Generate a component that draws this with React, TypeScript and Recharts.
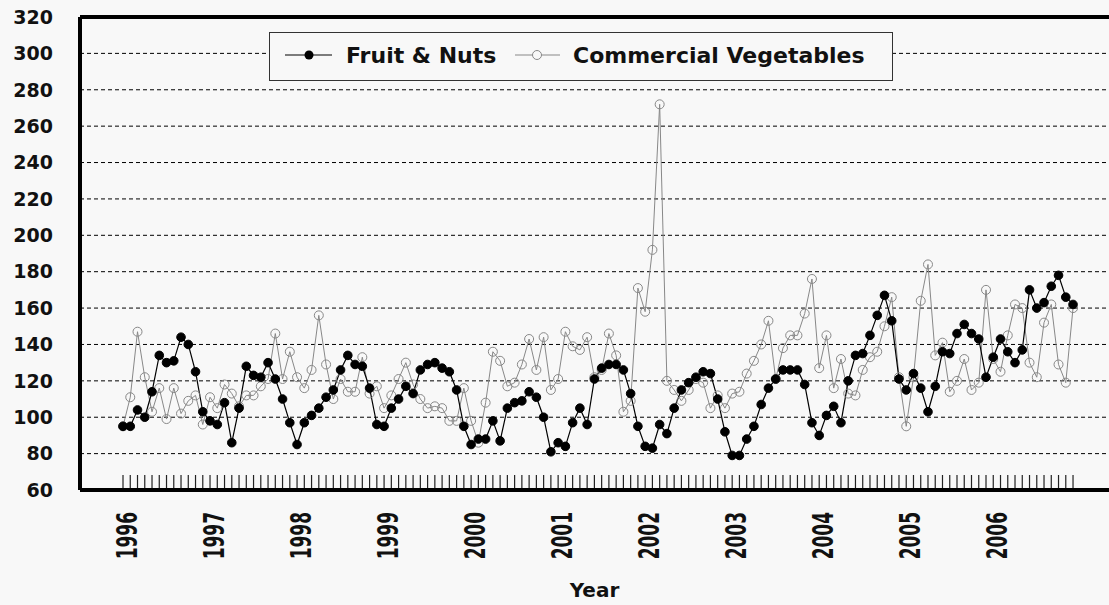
import React from "react";
import {
  LineChart,
  Line,
  XAxis,
  YAxis,
  CartesianGrid,
  ReferenceLine,
} from "recharts";

// monthly index values, Jan 1996 .. Dec 2006
const fruitNuts = [
  95, 95, 104, 100, 114, 134, 130, 131, 144, 140, 125, 103,
  98, 96, 108, 86, 105, 128, 123, 122, 130, 121, 110, 97,
  85, 97, 101, 105, 111, 115, 126, 134, 129, 128, 116, 96,
  95, 105, 110, 117, 113, 126, 129, 130, 127, 125, 115, 95,
  85, 88, 88, 98, 87, 105, 108, 109, 114, 111, 100, 81,
  86, 84, 97, 105, 96, 121, 127, 129, 129, 126, 113, 95,
  84, 83, 96, 91, 105, 115, 119, 122, 125, 124, 110, 92,
  79, 79, 88, 95, 107, 116, 121, 126, 126, 126, 118, 97,
  90, 101, 106, 97, 120, 134, 135, 145, 156, 167, 153, 121,
  115, 124, 116, 103, 117, 136, 135, 146, 151, 146, 143, 122,
  133, 143, 136, 130, 137, 170, 160, 163, 172, 178, 166, 162,
];

const commercialVeg = [
  95, 111, 147, 122, 103, 116, 99, 116, 102, 109, 112, 96,
  111, 105, 118, 113, 106, 112, 112, 117, 121, 146, 121, 136,
  122, 116, 126, 156, 129, 110, 121, 114, 114, 133, 113, 117,
  105, 112, 121, 130, 118, 110, 105, 106, 105, 98, 98, 116,
  98, 86, 108, 136, 131, 117, 119, 129, 143, 126, 144, 115,
  121, 147, 139, 137, 144, 122, 126, 146, 134, 103, 109, 171,
  158, 192, 272, 120, 115, 109, 115, 121, 119, 105, 112, 105,
  113, 114, 124, 131, 140, 153, 121, 138, 145, 145, 157, 176,
  127, 145, 116, 132, 113, 112, 126, 133, 136, 150, 166, 122,
  95, 122, 164, 184, 134, 141, 114, 120, 132, 115, 119, 170,
  132, 125, 145, 162, 160, 130, 122, 152, 162, 129, 119, 160,
];

const years = [
  "1996", "1997", "1998", "1999", "2000", "2001",
  "2002", "2003", "2004", "2005", "2006",
];

const yTicks = [60, 80, 100, 120, 140, 160, 180, 200, 220, 240, 260, 280, 300, 320];

const FONT = "DejaVu Sans";
const BG = "#f8f8f8";

const data = fruitNuts.map((v, i) => ({
  i,
  fruit: v,
  veg: commercialVeg[i],
}));
const monthTicks = data.map((d) => d.i);

function MonthTick(props: any) {
  const { x, y, payload } = props;
  const i = payload.value as number;
  return (
    <g>
      <line x1={x} x2={x} y1={y - 2} y2={y - 15} stroke="#222" strokeWidth={1.2} />
      {i % 12 === 0 && (
        <text
          transform={`translate(${x + 14},${y + 22}) rotate(-90) scale(1,1.7)`}
          textAnchor="end"
          fontFamily={FONT}
          fontWeight="bold"
          fontSize={17}
          fill="#111"
        >
          {years[i / 12]}
        </text>
      )}
    </g>
  );
}

// boxed legend drawn over the plot (not using <Legend/> so it takes no layout space)
function ChartLegend() {
  const text = {
    position: "absolute" as const,
    top: 10,
    fontFamily: FONT,
    fontWeight: "bold" as const,
    fontSize: 22,
    color: "#111",
    whiteSpace: "nowrap" as const,
    lineHeight: "26px",
  };
  return (
    <div
      style={{
        position: "absolute",
        left: 269,
        top: 32,
        width: 624,
        height: 49,
        boxSizing: "border-box",
        border: "1.5px solid #333",
        background: BG,
      }}
    >
      <svg width={624} height={49} style={{ position: "absolute", left: -1.5, top: -1.5 }}>
        <line x1={16} x2={63} y1={23} y2={23} stroke="#000" strokeWidth={1.2} />
        <circle cx={40} cy={23} r={4.5} fill="#000" />
        <line x1={246} x2={291} y1={23} y2={23} stroke="#888" strokeWidth={1} />
        <circle cx={268} cy={23} r={4.5} fill={BG} stroke="#888" strokeWidth={1} />
      </svg>
      <span style={{ ...text, left: 76 }}>Fruit &amp; Nuts</span>
      <span style={{ ...text, left: 303 }}>Commercial Vegetables</span>
    </div>
  );
}

export default function App() {
  return (
    <div
      style={{
        position: "absolute",
        left: 0,
        top: 0,
        width: 1109,
        height: 605,
        background: BG,
        overflow: "hidden",
      }}
    >
      <LineChart
        width={1109}
        height={605}
        data={data}
        margin={{ top: 17, right: 0, left: 0, bottom: 0 }}
      >
        <CartesianGrid vertical={false} stroke="#000" strokeDasharray="4 3" />
        <XAxis
          dataKey="i"
          type="number"
          domain={[-5.93, 135.96]}
          allowDataOverflow
          ticks={monthTicks}
          interval={0}
          tick={<MonthTick />}
          tickLine={false}
          tickSize={0}
          tickMargin={0}
          height={115}
          axisLine={{ stroke: "#000", strokeWidth: 4 }}
          label={{
            value: "Year",
            position: "insideBottom",
            offset: 8,
            style: { fontFamily: FONT, fontWeight: "bold", fontSize: 20, fill: "#111" },
          }}
        />
        <YAxis
          domain={[60, 320]}
          ticks={yTicks}
          interval={0}
          width={80}
          tickLine={false}
          tickSize={0}
          tickMargin={27}
          axisLine={{ stroke: "#000", strokeWidth: 4 }}
          tick={{ fontFamily: FONT, fontWeight: "bold", fontSize: 19, fill: "#111" }}
        />
        <ReferenceLine y={320} stroke="#000" strokeWidth={4} />
        <Line
          dataKey="veg"
          stroke="#888"
          strokeWidth={1}
          dot={{ r: 4.5, fill: "none", stroke: "#888", strokeWidth: 1 }}
          activeDot={false}
          isAnimationActive={false}
        />
        <Line
          dataKey="fruit"
          stroke="#000"
          strokeWidth={1.2}
          dot={{ r: 4.3, fill: "#000", stroke: "#000", strokeWidth: 1 }}
          activeDot={false}
          isAnimationActive={false}
        />
      </LineChart>
      <ChartLegend />
    </div>
  );
}
